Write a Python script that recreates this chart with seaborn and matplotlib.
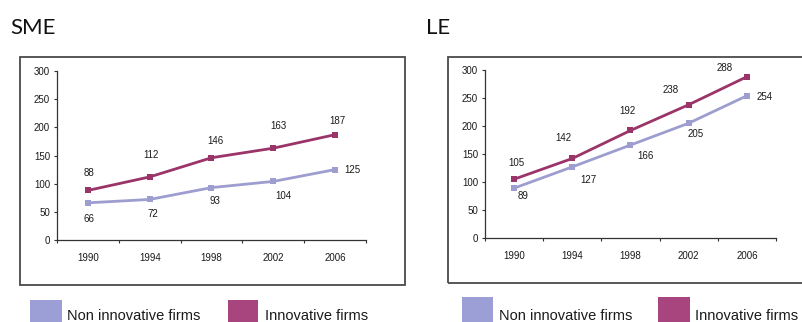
import matplotlib
matplotlib.use("Agg")
import matplotlib.pyplot as plt
from matplotlib.patches import Rectangle
import pandas as pd
import seaborn as sns

# ---- data -------------------------------------------------------------
years = ["1990", "1994", "1998", "2002", "2006"]
series_names = ["Non innovative firms", "Innovative firms"]
sme_non_innovative = [66, 72, 93, 104, 125]
sme_innovative = [88, 112, 146, 163, 187]
le_non_innovative = [89, 127, 166, 205, 254]
le_innovative = [105, 142, 192, 238, 288]
y_ticks = [0, 50, 100, 150, 200, 250, 300]
panel_titles = ["SME", "LE"]

# ---- style ------------------------------------------------------------
sns.set_theme(style="ticks")
plt.rcParams["font.family"] = ["Liberation Sans", "DejaVu Sans"]

line_colors = {"Non innovative firms": "#9d9dcf", "Innovative firms": "#9b3468"}
patch_colors = ["#9c9ed6", "#a8447e"]
text_color = "#1a1a1a"

W, H = 803, 322
fig = plt.figure(figsize=(W / 100, H / 100), dpi=100)
fig.patch.set_facecolor("white")


def fx(x):
    return x / W


def fy(y):
    return 1 - y / H


def px(p):
    return p * 0.72  # pixels -> points at 100 dpi


# per-point label offsets (pixels, right / down)
label_offsets = {
    "SME": {
        "Innovative firms": [(1, -17), (1, -22), (4, -17), (5, -22), (2, -14)],
        "Non innovative firms": [(1, 16), (3, 15), (3, 13), (10, 15), (17, 0)],
    },
    "LE": {
        "Innovative firms": [(2, -16), (-9, -20), (-3, -19), (-18, -15), (-22, -9)],
        "Non innovative firms": [(9, 8), (16, 13), (15, 11), (7, 11), (18, 1)],
    },
}

panels = [
    dict(title=panel_titles[0], non=sme_non_innovative, inn=sme_innovative,
         axes=(57, 240, 309, 169), box=(20, 57, 405, 285),
         title_xy=(10, 34), legend_y=300,
         legend_x=[(30, 62, 67), (228, 258, 265)]),
    dict(title=panel_titles[1], non=le_non_innovative, inn=le_innovative,
         axes=(485, 238, 291, 168), box=(448, 57, 812, 283),
         title_xy=(426, 34), legend_y=297,
         legend_x=[(462, 493, 499), (658, 690, 695)]),
]

for p in panels:
    x0, ybot, w, h = p["axes"]
    ax = fig.add_axes([fx(x0), fy(ybot), w / W, h / H])
    ax.set_facecolor("none")

    df = pd.DataFrame({
        "pos": list(range(len(years))) * 2,
        "value": p["non"] + p["inn"],
        "series": [series_names[0]] * len(years) + [series_names[1]] * len(years),
    })
    sns.lineplot(data=df, x="pos", y="value", hue="series", hue_order=series_names,
                 palette=line_colors, marker="s", markersize=4.5, markeredgewidth=0,
                 linewidth=2.0, legend=False, ax=ax)

    for name, vals in ((series_names[1], p["inn"]), (series_names[0], p["non"])):
        for i, v in enumerate(vals):
            dx, dy = label_offsets[p["title"]][name][i]
            ax.annotate(str(v), (i, v), xytext=(px(dx), -px(dy)),
                        textcoords="offset points", ha="center", va="center",
                        fontsize=7, color=text_color)

    ax.set_xlim(-0.5, len(years) - 0.5)
    ax.set_ylim(0, 300)
    ax.set_yticks(y_ticks)
    ax.set_yticklabels([str(t) for t in y_ticks])
    ax.set_xticks(range(len(years)))
    ax.set_xticklabels(years)
    ax.set_xticks([i - 0.5 for i in range(len(years) + 1)], minor=True)
    ax.tick_params(axis="x", which="major", length=0, pad=px(13), labelsize=7,
                   labelcolor=text_color)
    ax.tick_params(axis="x", which="minor", length=px(3), width=0.8, direction="out",
                   color="#333333")
    ax.tick_params(axis="y", length=px(3), width=0.8, direction="out", pad=px(4),
                   labelsize=7, labelcolor=text_color, color="#333333")
    ax.set_xlabel("")
    ax.set_ylabel("")
    for side in ("top", "right"):
        ax.spines[side].set_visible(False)
    for side in ("left", "bottom"):
        ax.spines[side].set_color("#333333")
        ax.spines[side].set_linewidth(0.9)

    # chart frame
    bx0, by0, bx1, by1 = p["box"]
    fig.patches.append(Rectangle((fx(bx0), fy(by1)), (bx1 - bx0) / W, (by1 - by0) / H,
                                 transform=fig.transFigure, fill=False,
                                 edgecolor="#4a4a4a", linewidth=1.3))

    # panel title
    tx, ty = p["title_xy"]
    fig.text(fx(tx), fy(ty), p["title"], fontsize=16, family=["Lato", "DejaVu Sans"],
             color="#111111", va="baseline", ha="left")

    # legend swatches
    ly = p["legend_y"]
    for (lx0, lx1, tx0), name, col in zip(p["legend_x"], series_names, patch_colors):
        fig.patches.append(Rectangle((fx(lx0), fy(H + 2)), (lx1 - lx0) / W, (H + 2 - ly) / H,
                                     transform=fig.transFigure, facecolor=col,
                                     edgecolor="none"))
        fig.text(fx(tx0), fy(320), name, fontsize=10.5, color=text_color,
                 va="baseline", ha="left")

fig.savefig("out.png", dpi=100, facecolor="white")
